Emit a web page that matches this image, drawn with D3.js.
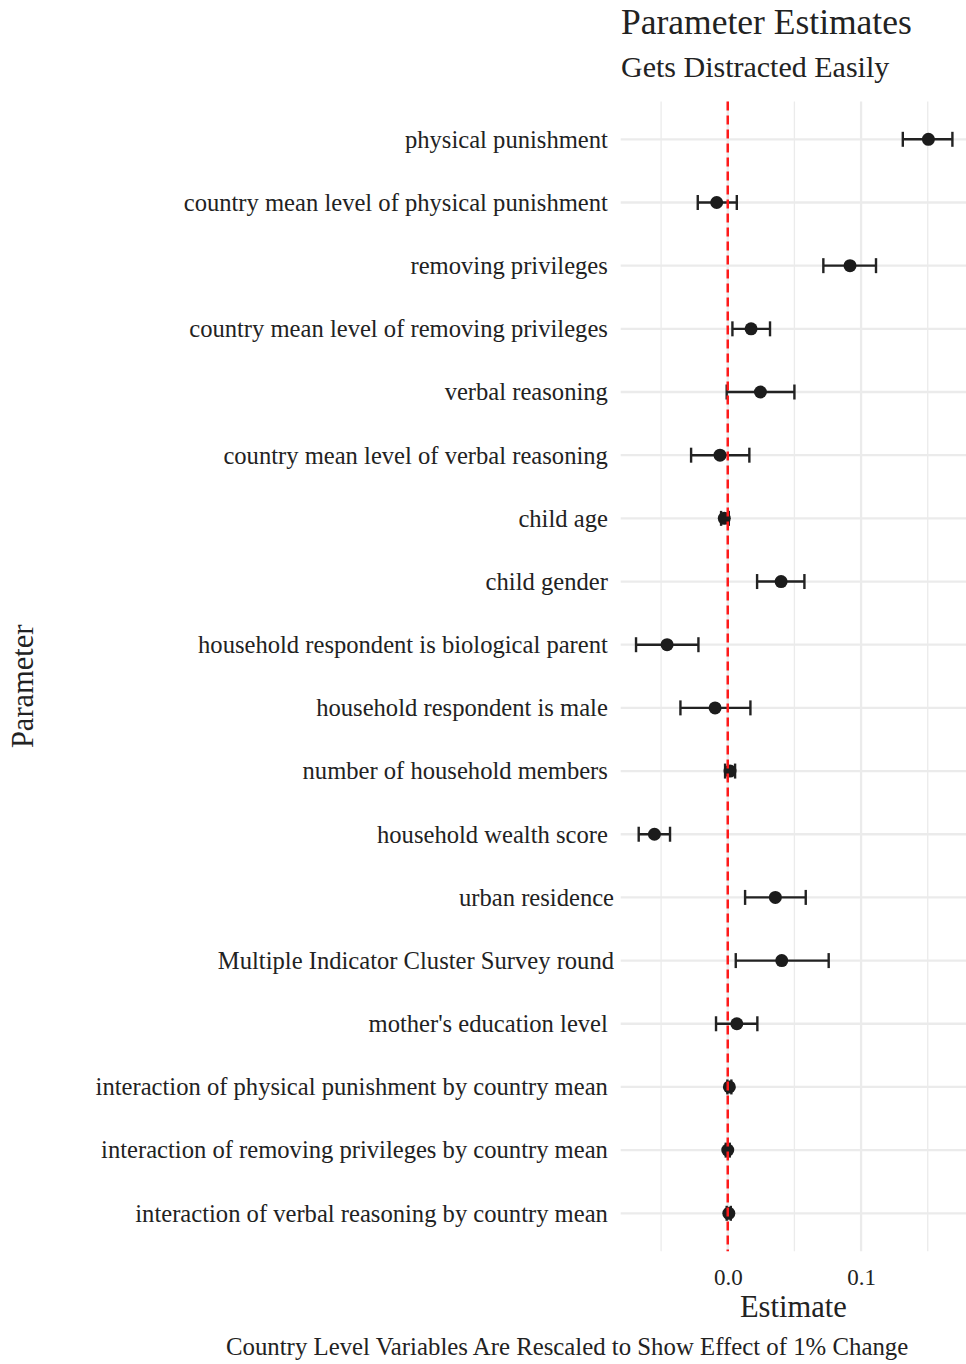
<!DOCTYPE html>
<html>
<head>
<meta charset="utf-8">
<script src="https://cdn.jsdelivr.net/npm/d3@7"></script>
<style>
  body { margin: 0; background: #fff; }
  text { font-family: "Liberation Serif", "DejaVu Serif", serif; fill: #222; }
  .ytick text { white-space: pre; }
</style>
</head>
<body>
<div id="chart"></div>
<script>
// labels keep their trailing space, like in the original plot
const PARAMS = [
  "physical punishment ",
  "country mean level of physical punishment ",
  "removing privileges ",
  "country mean level of removing privileges ",
  "verbal reasoning ",
  "country mean level of verbal reasoning ",
  "child age ",
  "child gender ",
  "household respondent is biological parent ",
  "household respondent is male ",
  "number of household members ",
  "household wealth score ",
  "urban residence",
  "Multiple Indicator Cluster Survey round",
  "mother's education level ",
  "interaction of physical punishment by country mean ",
  "interaction of removing privileges by country mean ",
  "interaction of verbal reasoning by country mean "
];
const ESTIMATE = [0.1505, -0.0083, 0.0917, 0.0175, 0.0245, -0.0058, -0.0026, 0.040, -0.0455,
  -0.0095, 0.0017, -0.055, 0.0357, 0.0405, 0.0068, 0.0012, 0.0000, 0.0008];
const LOWER = [0.1313, -0.0225, 0.0717, 0.0035, -0.0008, -0.0275, -0.0050, 0.022, -0.0688,
  -0.0355, -0.0020, -0.0668, 0.013, 0.006, -0.0088, -0.0003, -0.0015, -0.0008];
const UPPER = [0.1685, 0.0068, 0.1112, 0.0317, 0.050, 0.0162, 0.0008, 0.0575, -0.022,
  0.017, 0.0055, -0.0433, 0.0585, 0.0757, 0.0222, 0.0027, 0.0015, 0.0023];
const MAJOR_TICKS = [0.0, 0.1];
const MINOR_TICKS = [-0.05, 0.05, 0.15];

const WIDTH = 966;
const HEIGHT = 1364;
const panel = { left: 620.7, right: 966, top: 101.4, bottom: 1251.2 };

const rows = PARAMS.map((p, i) => ({ p: p, est: ESTIMATE[i], lo: LOWER[i], hi: UPPER[i] }));

const svg = d3.select('#chart').append('svg')
  .attr('width', WIDTH)
  .attr('height', HEIGHT);

// x limits of the panel (data range + ggplot style expansion)
const x = d3.scaleLinear().domain([-0.0803, 0.1787]).range([panel.left, panel.right]);
const y = d3.scalePoint().domain(PARAMS).range([panel.top, panel.bottom]).padding(0.6);

// grid
svg.append('g').selectAll('line.minor')
  .data(MINOR_TICKS)
  .enter().append('line')
  .attr('x1', d => x(d)).attr('x2', d => x(d))
  .attr('y1', panel.top).attr('y2', panel.bottom)
  .attr('stroke', '#ebebeb').attr('stroke-width', 1.3);

svg.append('g').selectAll('line.major')
  .data(MAJOR_TICKS)
  .enter().append('line')
  .attr('x1', d => x(d)).attr('x2', d => x(d))
  .attr('y1', panel.top).attr('y2', panel.bottom)
  .attr('stroke', '#ebebeb').attr('stroke-width', 2.3);

svg.append('g').selectAll('line')
  .data(PARAMS)
  .enter().append('line')
  .attr('x1', panel.left).attr('x2', panel.right)
  .attr('y1', d => y(d)).attr('y2', d => y(d))
  .attr('stroke', '#ebebeb').attr('stroke-width', 2.3);

// error bars
const CAP = 7.5;
const bars = svg.append('g').attr('stroke', '#222').attr('stroke-width', 2.4).attr('fill', 'none');
bars.selectAll('line.h')
  .data(rows).enter().append('line')
  .attr('x1', d => x(d.lo)).attr('x2', d => x(d.hi))
  .attr('y1', d => y(d.p)).attr('y2', d => y(d.p));
bars.selectAll('line.l')
  .data(rows).enter().append('line')
  .attr('x1', d => x(d.lo)).attr('x2', d => x(d.lo))
  .attr('y1', d => y(d.p) - CAP).attr('y2', d => y(d.p) + CAP);
bars.selectAll('line.r')
  .data(rows).enter().append('line')
  .attr('x1', d => x(d.hi)).attr('x2', d => x(d.hi))
  .attr('y1', d => y(d.p) - CAP).attr('y2', d => y(d.p) + CAP);

svg.append('g').selectAll('circle')
  .data(rows).enter().append('circle')
  .attr('cx', d => x(d.est)).attr('cy', d => y(d.p))
  .attr('r', 6.5).attr('fill', '#1c1c1c');

// zero line
svg.append('line')
  .attr('x1', x(0)).attr('x2', x(0))
  .attr('y1', panel.top).attr('y2', panel.bottom)
  .attr('stroke', '#ff1a1a').attr('stroke-width', 2.5)
  .attr('stroke-dasharray', '9,5');

// axes
const xAxis = svg.append('g')
  .attr('transform', `translate(0,${panel.bottom})`)
  .call(d3.axisBottom(x).tickValues(MAJOR_TICKS).tickFormat(d3.format('.1f')).tickSize(0).tickPadding(17));
xAxis.select('.domain').remove();
xAxis.selectAll('text').style('font-size', '23px').attr('fill', '#222')
  .style('font-family', '"Liberation Serif", serif');

const yAxis = svg.append('g')
  .attr('transform', `translate(${panel.left},0)`)
  .call(d3.axisLeft(y).tickSize(0).tickPadding(6.7));
yAxis.select('.domain').remove();
yAxis.selectAll('.tick').attr('class', 'tick ytick');
yAxis.selectAll('text').style('font-size', '24.6px').attr('fill', '#222')
  .style('font-family', '"Liberation Serif", serif');

// titles
svg.append('text').attr('x', 621).attr('y', 34)
  .style('font-size', '35.5px').text('Parameter Estimates');
svg.append('text').attr('x', 621).attr('y', 77)
  .style('font-size', '30px').text('Gets Distracted Easily');

svg.append('text')
  .attr('x', (panel.left + panel.right) / 2).attr('y', 1317)
  .attr('text-anchor', 'middle')
  .style('font-size', '30.5px').text('Estimate');

svg.append('text')
  .attr('transform', `translate(33,${(panel.top + panel.bottom) / 2 + 10}) rotate(-90)`)
  .attr('text-anchor', 'middle')
  .style('font-size', '30.5px').text('Parameter');

svg.append('text').attr('x', 226).attr('y', 1355)
  .style('font-size', '24.8px')
  .text('Country Level Variables Are Rescaled to Show Effect of 1% Change');
</script>
</body>
</html>
